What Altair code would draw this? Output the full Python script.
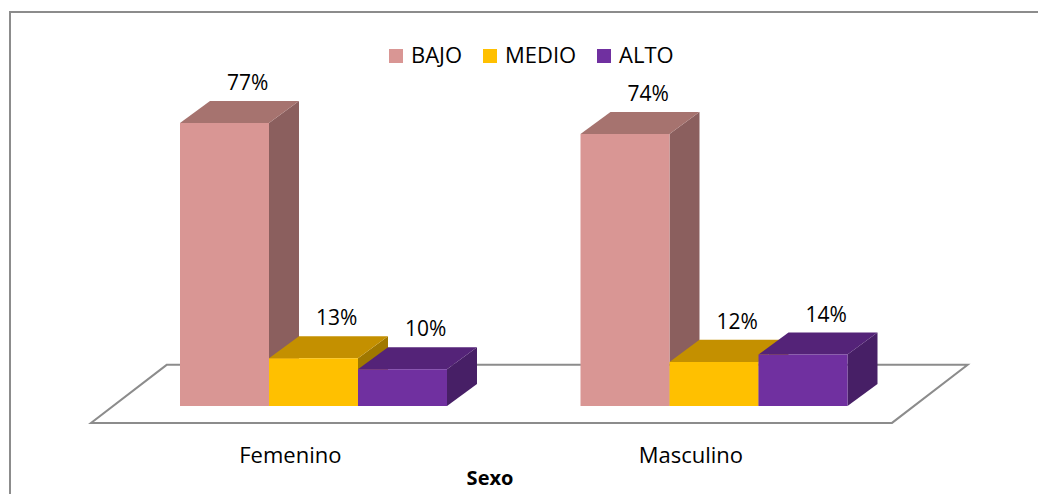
import altair as alt
import pandas as pd

# ---- data ----
categories = ["Femenino", "Masculino"]
series = ["BAJO", "MEDIO", "ALTO"]
values_femenino = [77, 13, 10]
values_masculino = [74, 12, 14]
label_texts_fem = ["77%", "13%", "10%"]
label_texts_mas = ["74%", "12%", "14%"]
axis_title = "Sexo"

# ---- style ----
front_colors = ["#d99694", "#ffc000", "#7030a0"]
top_colors = ["#a6736f", "#c49000", "#542378"]
side_colors = ["#8b5f5e", "#a07800", "#471f66"]
FONT = "Open Sans"
GROUP_STEP = 4.5      # in bar widths
DEPTH_X = 0.337       # bar depth, horizontal (bar widths)
DEPTH_Y = 6.0         # bar depth, vertical (percent units)

all_values = [values_femenino, values_masculino]
all_labels = [label_texts_fem, label_texts_mas]

front_rows, side_rows, top_rows, lab_rows, cat_rows = [], [], [], [], []
for g, cat in enumerate(categories):
    for s, ser in enumerate(series):
        v = all_values[g][s]
        x0 = g * GROUP_STEP + s
        x1 = x0 + 1
        bid = f"{cat}-{ser}"
        front_rows.append(dict(cat=cat, serie=ser, x0=x0, x1=x1, v=v, base=0))
        side_rows.append(dict(bid=bid, x=x1, y=v, y2=0, col=side_colors[s]))
        side_rows.append(dict(bid=bid, x=x1 + DEPTH_X, y=v + DEPTH_Y, y2=DEPTH_Y, col=side_colors[s]))
        top_rows.append(dict(bid=bid, y=v, x=x0, x2=x1, col=top_colors[s]))
        top_rows.append(dict(bid=bid, y=v + DEPTH_Y, x=x0 + DEPTH_X, x2=x1 + DEPTH_X, col=top_colors[s]))
        lab_rows.append(dict(x=(x0 + x1) / 2 + 0.26, v=v, t=all_labels[g][s]))
    cat_rows.append(dict(x=g * GROUP_STEP + 1.5 - 0.26, t=cat))

front_df = pd.DataFrame(front_rows)
side_df = pd.DataFrame(side_rows)
top_df = pd.DataFrame(top_rows)
lab_df = pd.DataFrame(lab_rows)
cat_df = pd.DataFrame(cat_rows)

# floor derived from bar extents
xmin = front_df["x0"].min()
xmax = front_df["x1"].max()
floor_df = pd.DataFrame([
    dict(y=-4.6, x=xmin - 1.0, x2=xmax + 0.5),
    dict(y=11.2, x=xmin - 1.0 + 0.85, x2=xmax + 0.5 + 0.85),
])

xs = alt.Scale(domain=[-2.0225, 9.6404], nice=False, zero=False)
ys = alt.Scale(domain=[-23.95, 110.48], nice=False, zero=False)

floor = alt.Chart(floor_df).mark_area(
    orient="horizontal", fill="white", stroke="#8c8c8c", strokeWidth=2
).encode(
    y=alt.Y("y:Q", scale=ys, axis=None),
    x=alt.X("x:Q", scale=xs, axis=None),
    x2="x2:Q",
)

sides = alt.Chart(side_df).mark_area(orient="vertical").encode(
    x=alt.X("x:Q", scale=xs, axis=None),
    y=alt.Y("y:Q", scale=ys, axis=None),
    y2="y2:Q",
    detail="bid:N",
    fill=alt.Fill("col:N", scale=None),
)

tops = alt.Chart(top_df).mark_area(orient="horizontal").encode(
    y=alt.Y("y:Q", scale=ys, axis=None),
    x=alt.X("x:Q", scale=xs, axis=None),
    x2="x2:Q",
    detail="bid:N",
    fill=alt.Fill("col:N", scale=None),
)

fronts = alt.Chart(front_df).mark_rect().encode(
    x=alt.X("x0:Q", scale=xs, axis=None),
    x2="x1:Q",
    y=alt.Y("v:Q", scale=ys, axis=None),
    y2="base:Q",
    color=alt.Color(
        "serie:N",
        scale=alt.Scale(domain=series, range=front_colors),
        legend=alt.Legend(
            title=None, orient="none", legendX=385, legendY=45,
            direction="horizontal", symbolType="square", symbolSize=196,
            symbolStrokeWidth=0, labelFont=FONT, labelFontSize=22,
            labelColor="#000000", columnPadding=16, labelOffset=4, padding=0,
        ),
    ),
)

labels = alt.Chart(lab_df).mark_text(
    font=FONT, fontSize=21, color="#000000", baseline="alphabetic", dy=-33
).encode(
    x=alt.X("x:Q", scale=xs, axis=None),
    y=alt.Y("v:Q", scale=ys, axis=None),
    text="t:N",
)

cat_labels = alt.Chart(cat_df).mark_text(
    font=FONT, fontSize=22, color="#000000", baseline="alphabetic"
).encode(
    x=alt.X("x:Q", scale=xs, axis=None),
    y=alt.value(463),
    text="t:N",
)

title_df = pd.DataFrame([dict(t=axis_title)])
title_txt = alt.Chart(title_df).mark_text(
    font=FONT, fontSize=20, fontWeight="bold", color="#000000", baseline="alphabetic"
).encode(x=alt.value(490), y=alt.value(485), text="t:N")

border = alt.Chart(title_df).mark_rect(
    fill="white", fillOpacity=0, stroke="#8c8c8c", strokeWidth=2
).encode(x=alt.value(10), y=alt.value(12), x2=alt.value(1120), y2=alt.value(620))

chart = alt.layer(
    border, floor, sides, tops, fronts, labels, cat_labels, title_txt
).properties(
    width=1038, height=494, autosize=alt.AutoSizeParams(type="none"), padding=0,
    background="white",
).configure_view(stroke=None)

chart.save("out.html", embed_options={"renderer": "svg", "actions": False})
